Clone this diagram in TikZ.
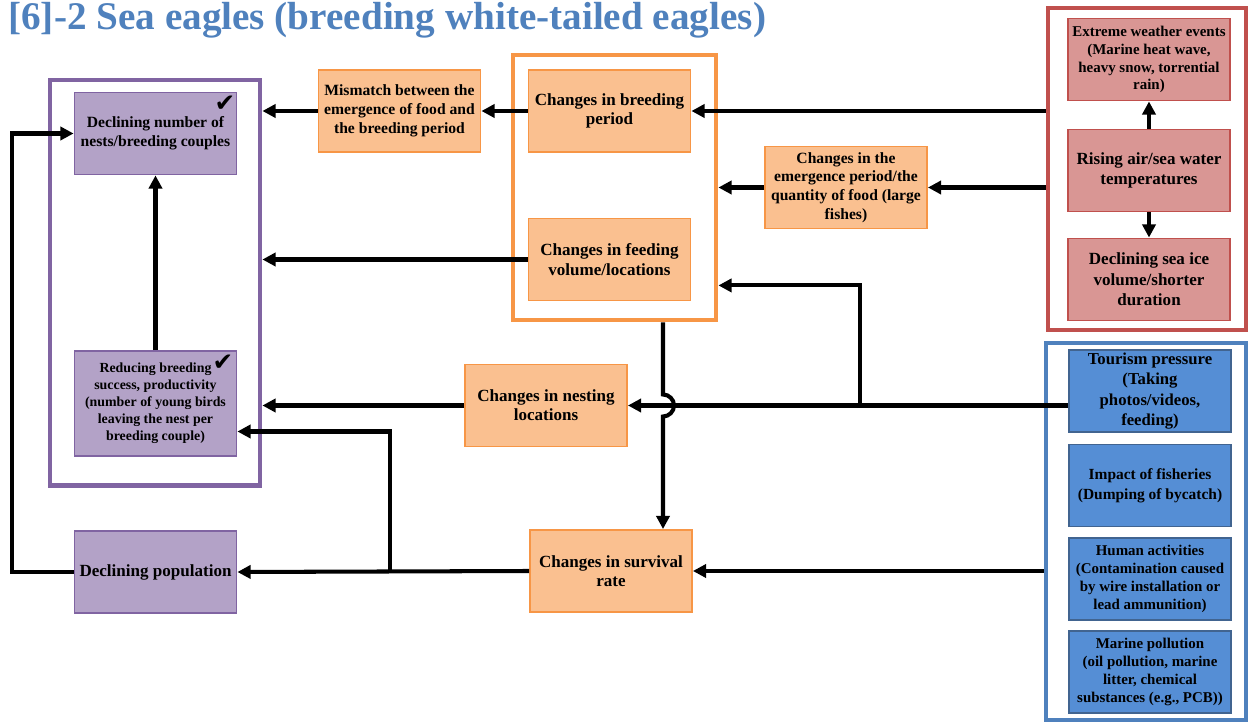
\documentclass[tikz,border=0pt]{standalone}
\usepackage{fontspec}
\setmainfont{Liberation Serif}
\newfontfamily\egsym{DejaVu Sans}
\usepackage{tikz}
\usetikzlibrary{arrows.meta,calc}
\definecolor{egpurple}{HTML}{8064A2}
\definecolor{egpurplefill}{HTML}{B3A2C7}
\definecolor{egorange}{HTML}{F79646}
\definecolor{egorangefill}{HTML}{FAC090}
\definecolor{egred}{HTML}{C0504D}
\definecolor{egredfill}{HTML}{D99694}
\definecolor{egblue}{HTML}{4F81BD}
\definecolor{egbluefill}{HTML}{558ED5}
\definecolor{egnavy}{HTML}{1F497D}
\tikzset{
  egframe/.style={line width=2.8pt, fill=white, inner sep=0pt},
  egbox/.style={line width=1.1pt, align=center, inner sep=1pt,
    minimum width=3.24cm, minimum height=1.64cm,
    font=\bfseries\fontsize{9.7}{11}\selectfont},
  egpurplebox/.style={egbox, draw=egpurple, fill=egpurplefill},
  egorangebox/.style={egbox, draw=egorange, fill=egorangefill},
  egredbox/.style={egbox, draw=egred, fill=egredfill},
  egbluebox/.style={egbox, draw=egnavy!85, fill=egbluefill},
  egmid/.style={font=\bfseries\fontsize{8.9}{10.7}\selectfont},
  egsmall/.style={font=\bfseries\fontsize{8.5}{10.2}\selectfont},
  egarrow/.style={-{Triangle[length=7.5pt,width=7.5pt]}, line width=2.3pt},
  egcheck/.style={font=\egsym\fontsize{14}{14}\selectfont, inner sep=0pt}
}
\begin{document}
\begin{tikzpicture}[x=0.02cm, y=-0.02cm]
  \useasboundingbox (0,0) rectangle (1248,722);
  \node[anchor=base west, inner sep=0pt, text=egblue,
    font=\bfseries\fontsize{22.3}{24}\selectfont] (title) at (8,29.5)
    {[6]-2 Sea eagles (breeding white-tailed eagles)};

  \node[egframe, draw=egpurple, minimum width=4.2cm, minimum height=8.12cm] (grpP) at (155,283) {};
  \node[egframe, draw=egorange, minimum width=4.06cm, minimum height=5.3cm] (grpO) at (614.5,187.5) {};
  \node[egframe, draw=egred, minimum width=3.96cm, minimum height=6.44cm] (grpR) at (1147,169) {};
  \node[egframe, draw=egblue, minimum width=4.0cm, minimum height=7.54cm] (grpB) at (1146,531.5) {};

  \node[egpurplebox, egmid] (nests) at (155.5,133.5) {Declining number of\\nests/breeding couples};
  \node[egpurplebox, minimum height=2.1cm, font=\bfseries\fontsize{7.9}{9.7}\selectfont] (success) at (155.5,403.5)
    {Reducing breeding\\success, productivity\\(number of young birds\\leaving the nest per\\breeding couple)};
  \node[egpurplebox] (pop) at (155.5,572) {Declining population};
  \node[egcheck] (chk1) at (225,104) {✔};
  \node[egcheck] (chk2) at (223,363) {✔};

  \node[egorangebox, egmid] (mism) at (399.5,111) {Mismatch between the\\emergence of food and\\the breeding period};
  \node[egorangebox] (brper) at (609.5,111) {Changes in breeding\\period};
  \node[egorangebox] (feed) at (609.5,259.5) {Changes in feeding\\volume/locations};
  \node[egorangebox, egmid] (emerg) at (846,187.5) {Changes in the\\emergence period/the\\quantity of food (large\\fishes)};
  \node[egorangebox] (nestloc) at (546,405.5) {Changes in nesting\\locations};
  \node[egorangebox] (surv) at (611,571) {Changes in survival\\rate};

  \node[egredbox, egsmall] (extr) at (1149,59.5) {Extreme weather events\\(Marine heat wave,\\heavy snow, torrential\\rain)};
  \node[egredbox] (rise) at (1149,170.5) {Rising air/sea water\\temperatures};
  \node[egredbox, font=\bfseries\fontsize{9.7}{11.7}\selectfont] (ice) at (1149,279.5) {Declining sea ice\\volume/shorter\\duration};

  \node[egbluebox, font=\bfseries\fontsize{9.5}{11.6}\selectfont] (tour) at (1150,391) {Tourism pressure\\(Taking\\photos/videos,\\feeding)};
  \node[egbluebox, font=\bfseries\fontsize{8.8}{11.3}\selectfont] (fish) at (1150,485.5) {Impact of fisheries\\(Dumping of bycatch)};
  \node[egbluebox, egsmall] (human) at (1150,579) {Human activities\\(Contamination caused\\by wire installation or\\lead ammunition)};
  \node[egbluebox, font=\bfseries\fontsize{8.5}{10.4}\selectfont] (marine) at (1150,672) {Marine pollution\\(oil pollution, marine\\litter, chemical\\substances (e.g., PCB))};

  \coordinate (tbranch) at (860,405.5);
  \coordinate (vdrop) at (663,0);
  \coordinate (sbranch) at (390,571);

  \draw[egarrow] (brper.west) -- (mism.east);
  \draw[egarrow] (mism.west) -- (mism.west -| grpP.east);
  \draw[egarrow] (feed.west) -- (feed.west -| grpP.east);
  \draw[egarrow] (brper.east -| grpR.west) -- (brper.east);
  \draw[egarrow] (emerg.east -| grpR.west) -- (emerg.east);
  \draw[egarrow] (emerg.west) -- (emerg.west -| grpO.east);
  \draw[egarrow] (rise.north) -- (extr.south);
  \draw[egarrow] (rise.south) -- (ice.north);
  \draw[egarrow] (nestloc.east -| tour.west) -- (nestloc.east);
  \draw[egarrow] (tbranch) |- ($(grpO.south east)+(0,-37)$);
  \draw[egarrow] (nestloc.west) -- (nestloc.west -| grpP.east);
  \draw[egarrow] (grpO.south -| vdrop) -- ($(vdrop |- nestloc.east)+(0,-11)$)
    arc[start angle=90, end angle=-90, radius=0.22cm] -- (vdrop |- surv.north);
  \draw[egarrow] (surv.east -| grpB.west) -- (surv.east);
  \draw[egarrow] (surv.west) -- (pop.east);
  \draw[egarrow] (sbranch) |- ($(success.east)+(0,28)$);
  \draw[egarrow] (success.north) -- (nests.south);
  \draw[egarrow] (pop.west) -- ++(-62,0) |- (nests.west);
\end{tikzpicture}
\end{document}
